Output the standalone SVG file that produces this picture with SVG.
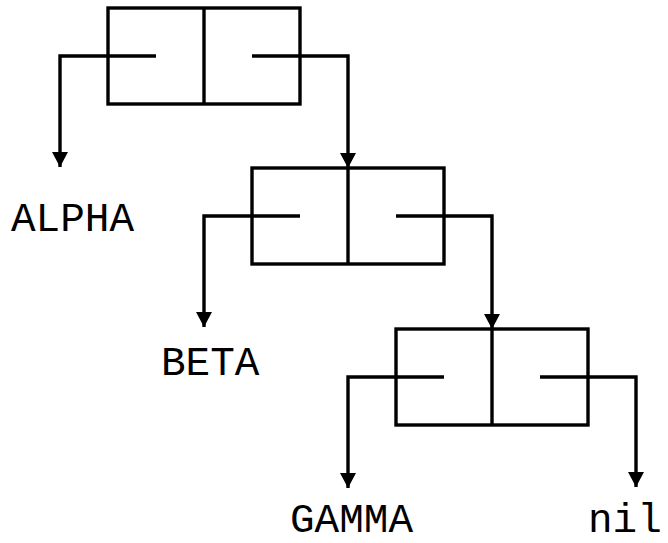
<svg xmlns="http://www.w3.org/2000/svg" width="668" height="543" viewBox="0 0 668 543">
<style>
.box{fill:none;stroke:#000;stroke-width:3.4}
.ln{fill:none;stroke:#000;stroke-width:3.4;stroke-linejoin:miter}
.lbl{font-family:"Liberation Mono","Courier New",monospace;font-size:41px;fill:#000}
</style>
<defs>
<marker id="ah" markerUnits="userSpaceOnUse" markerWidth="15" markerHeight="16" viewBox="0 0 15 16" refX="15" refY="8" orient="auto">
<path d="M0,0 L15,8 L0,16 z" fill="#000"/>
</marker>
</defs>
<rect width="668" height="543" fill="#fff"/>
<g id="cell1">
<rect class="box" x="108" y="8" width="192" height="96"/>
<line class="box" x1="204" y1="8" x2="204" y2="104"/>
</g>
<g id="cell2">
<rect class="box" x="252" y="168" width="192" height="96"/>
<line class="box" x1="348" y1="168" x2="348" y2="264"/>
</g>
<g id="cell3">
<rect class="box" x="396" y="329" width="192" height="96"/>
<line class="box" x1="492" y1="329" x2="492" y2="425"/>
</g>
<g id="connectors">
<path class="ln" d="M156 56 H60 V167" marker-end="url(#ah)"/>
<path class="ln" d="M252 56 H348 V168" marker-end="url(#ah)"/>
<path class="ln" d="M300 216 H204 V327" marker-end="url(#ah)"/>
<path class="ln" d="M396 216 H492 V329" marker-end="url(#ah)"/>
<path class="ln" d="M444 377 H348 V488" marker-end="url(#ah)"/>
<path class="ln" d="M540 377 H636 V487" marker-end="url(#ah)"/>
</g>
<g id="labels">
<text class="lbl" x="11" y="231">ALPHA</text>
<text class="lbl" x="161" y="375">BETA</text>
<text class="lbl" x="290" y="532">GAMMA</text>
<text class="lbl" x="588" y="532">nil</text>
</g>
</svg>
